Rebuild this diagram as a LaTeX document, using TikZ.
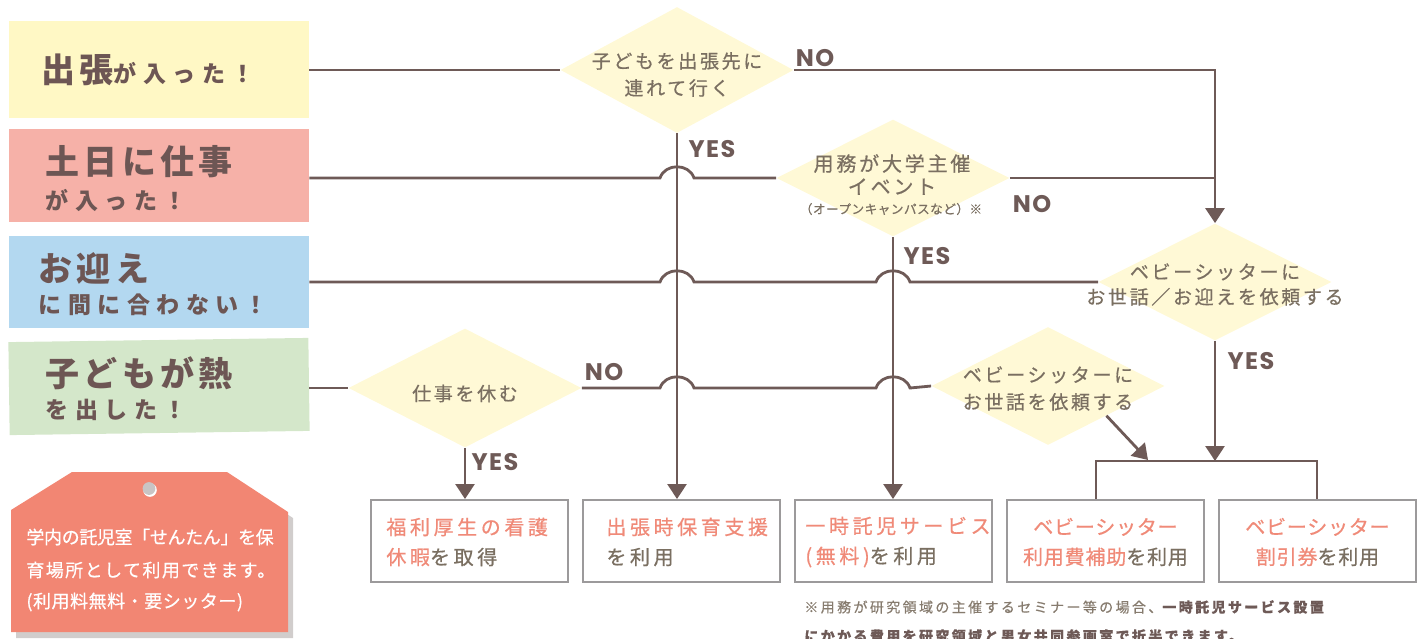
\documentclass[tikz,border=0pt]{standalone}
\usepackage{fontspec}
\usetikzlibrary{shapes.geometric,arrows.meta,calc}
\newfontfamily\jpbig[LetterSpace=12]{Noto Sans CJK JP}
\newfontfamily\jpsmall[LetterSpace=28]{Noto Sans CJK JP}
\newfontfamily\jpmid[LetterSpace=14,FakeBold=0.6]{Noto Sans CJK JP}
\newfontfamily\jpres[LetterSpace=18,FakeBold=0.6]{Noto Sans CJK JP}
\newfontfamily\jptight[LetterSpace=4,FakeBold=0.6]{Noto Sans CJK JP}
\newfontfamily\jptagA[LetterSpace=-2,FakeBold=0.6]{Noto Sans CJK JP}
\newfontfamily\jptagB[LetterSpace=8,FakeBold=0.6]{Noto Sans CJK JP}
\newfontfamily\jptagC[LetterSpace=3,FakeBold=0.6]{Noto Sans CJK JP}
\newfontfamily\jpfn[LetterSpace=17,FakeBold=0.5]{Noto Sans CJK JP}
\newfontfamily\labfont[LetterSpace=6]{Poppins}
\definecolor{ln}{HTML}{6E5A57}
\definecolor{tx}{HTML}{6D5654}
\definecolor{dt}{HTML}{7A6F61}
\definecolor{cY}{HTML}{FFF8C5}
\definecolor{cP}{HTML}{F6B1A8}
\definecolor{cB}{HTML}{B3D8F0}
\definecolor{cG}{HTML}{D4E7CA}
\definecolor{dia}{HTML}{FFF9D6}
\definecolor{sal}{HTML}{F08A78}
\definecolor{bd}{HTML}{9C9A9B}
\definecolor{tagc}{HTML}{F28673}
\definecolor{shd}{HTML}{D1CDCC}
\definecolor{hole}{HTML}{C9C4C4}
\definecolor{fn}{HTML}{867B6E}
\begin{document}
\begin{tikzpicture}[x=0.5pt,y=-0.5pt,
  sit/.style={rectangle,draw=none,inner sep=0pt,minimum width=150pt},
  lt/.style={inner sep=0pt,text=tx},
  bigt/.style={lt,font=\jpbig\bfseries\fontsize{17}{17}\selectfont},
  smallt/.style={lt,font=\jpsmall\bfseries\fontsize{11.5}{11.5}\selectfont},
  cond/.style={diamond,fill=dia,draw=none,inner sep=0pt,minimum width=116.5pt},
  ct/.style={inner sep=0pt,text=dt,align=center},
  res/.style={rectangle,draw=bd,line width=1pt,fill=white,minimum width=98.5pt,minimum height=41pt},
  rt/.style={inner sep=0pt,text=dt,font=\jpres\fontsize{10}{15}\selectfont},
  flow/.style={draw=ln,line width=1.4pt},
  arr/.style={flow,-{Triangle[width=9.5pt,length=7.5pt]}},
  yn/.style={inner sep=0pt,text=ln,font=\labfont\bfseries\fontsize{12}{12}\selectfont},
  tagt/.style={inner sep=0pt,text=white,anchor=west},
  fnt/.style={inner sep=0pt,text=fn,anchor=west,font=\jpfn\fontsize{7}{7}\selectfont}]
\useasboundingbox (0,0) rectangle (1423,638);

% situation boxes
\node[sit,fill=cY,minimum height=48.5pt] (b1) at (159,69.5) {};
\node[sit,fill=cP,minimum height=46.5pt] (b2) at (159,175.5) {};
\node[sit,fill=cB,minimum height=46pt] (b3) at (159,282) {};
\node[sit,fill=cG,minimum height=46.5pt,rotate=0.8] (b4) at (159,386.5) {};

\node[lt,anchor=base west] (b1t) at (41.5,82) {{\jpbig\bfseries\fontsize{17}{17}\selectfont 出張}{\jpsmall\bfseries\fontsize{11.5}{11.5}\selectfont が入った！}};
\node[bigt,anchor=base west] (b2a) at (45.5,174.5) {土日に仕事};
\node[smallt,anchor=base west] (b2b) at (45.5,209) {が入った！};
\node[bigt,anchor=base west] (b3a) at (38.5,281) {お迎え};
\node[smallt,anchor=base west] (b3b) at (38.5,313.5) {に間に合わない！};
\node[bigt,anchor=base west] (b4a) at (45.5,386) {子どもが熱};
\node[smallt,anchor=base west] (b4b) at (45.5,418.5) {を出した！};

% decisions
\node[cond,minimum height=63pt] (d1) at (677,70) {};
\node[cond,minimum height=58.5pt] (d2) at (893,178) {};
\node[cond,minimum height=58.5pt] (d3) at (1215,282) {};
\node[cond,minimum height=59.5pt] (d4) at (465,388) {};
\node[cond,minimum height=59pt] (d5) at (1048,386) {};

\node[ct,font=\jpmid\fontsize{9.5}{13.5}\selectfont] (t1) at (677,74.5) {子どもを出張先に\\連れて行く};
\node[ct,font=\jpmid\fontsize{10}{11.5}\selectfont] (t2) at (892,174.5) {用務が大学主催\\イベント};
\node[ct,font=\jptight\fontsize{6.3}{6.3}\selectfont] (t2b) at (891,209) {（オープンキャンパスなど）※};
\node[ct,font=\jpmid\fontsize{9.5}{12.5}\selectfont] (t3) at (1215,284.5) {ベビーシッターに\\お世話／お迎えを依頼する};
\node[ct,font=\jpmid\fontsize{9.5}{13.5}\selectfont] (t4) at (465,393.5) {仕事を休む};
\node[ct,font=\jpmid\fontsize{9.5}{13.5}\selectfont] (t5) at (1048,388.5) {ベビーシッターに\\お世話を依頼する};

% results
\node[res] (bA) at (469.5,541) {};
\node[res] (bB) at (681.5,541) {};
\node[res] (bC) at (893.5,541) {};
\node[res] (bD) at (1105.5,541) {};
\node[res] (bE) at (1317.5,541) {};

\node[rt,anchor=west,align=left] (tA) at (386,542) {{\color{sal}福利厚生の看護}\\{\color{sal}休暇}を取得};
\node[rt,anchor=west,align=left] (tB) at (606,542) {{\color{sal}出張時保育支援}\\を利用};
\node[rt,anchor=west,align=left] (tC) at (805,542) {{\color{sal}一時託児サービス}\\{\color{sal}(無料)}を利用};
\node[rt,font=\jptight\fontsize{10}{15}\selectfont,align=center] (tD) at (1105.5,542) {{\color{sal}ベビーシッター}\\{\color{sal}利用費補助}を利用};
\node[rt,font=\jptight\fontsize{10}{15}\selectfont,align=center] (tE) at (1317.5,542) {{\color{sal}ベビーシッター}\\{\color{sal}割引券}を利用};

% helper coordinates
\coordinate (c12) at (d1.south |- d2.west);
\coordinate (c13) at (d1.south |- d3.west);
\coordinate (c23) at (d2.south |- d3.west);
\coordinate (c14) at (d1.south |- d4.east);
\coordinate (c24) at (d2.south |- d4.east);
\coordinate (brL) at (1096,461);
\coordinate (brR) at (1317,461);
\coordinate (dk) at (1148,460);

% connectors
\draw[flow] (b1.east |- d1.west) -- (d1.west);
\draw[arr] (d1.east) -- (d3.north |- d1.east) -- (d3.north);
\draw[arr] (d1.south) -- (d1.south |- bB.north);
\draw[flow] (b2.east |- d2.west) -- ([xshift=-8.5pt]c12) .. controls +(5,-15) and +(-5,-15) .. ([xshift=8.5pt]c12) -- (d2.west);
\draw[flow] (d2.east) -- (d3.north |- d2.east);
\draw[arr] (d2.south) -- (d2.south |- bC.north);
\draw[flow] (b3.east |- d3.west) -- ([xshift=-8.5pt]c13) .. controls +(5,-15) and +(-5,-15) .. ([xshift=8.5pt]c13)
   -- ([xshift=-8.5pt]c23) .. controls +(5,-15) and +(-5,-15) .. ([xshift=8.5pt]c23) -- (d3.west);
\draw[arr] (d3.south) -- (d3.south |- brL);
\draw[flow] (b4.east |- d4.west) -- (d4.west);
\draw[flow] (d4.east) -- ([xshift=-8.5pt]c14) .. controls +(5,-15) and +(-5,-15) .. ([xshift=8.5pt]c14)
   -- ([xshift=-8.5pt]c24) .. controls +(5,-15) and +(-5,-15) .. ([xshift=8.5pt]c24) -- (d5.west);
\draw[arr] (d4.south) -- (d4.south |- bA.north);
\draw[arr] (d5.south east) -- (dk);
\draw[flow] (bD.north -| brL) -- (brL) -- (brR) -- (bE.north -| brR);

% labels
\node[yn] (n1) at (815,58) {NO};
\node[yn] (y1) at (712,149) {YES};
\node[yn] (n2) at (1032,204) {NO};
\node[yn] (y2) at (927,256) {YES};
\node[yn] (y3) at (1251,361) {YES};
\node[yn] (n4) at (604,372) {NO};
\node[yn] (y4) at (495,462) {YES};

% tag
\fill[shd] (16,516) -- (77,478) -- (232,478) -- (293,518) -- (293,638) -- (16,638) -- cycle;
\fill[tagc] (11,510) -- (72,472) -- (227,472) -- (288,512) -- (288,632) -- (11,632) -- cycle;
\fill[white] (150,490) circle[radius=3.4pt];
\fill[hole] (149,488.5) circle[radius=3.2pt];
\node[tagt,font=\jptagA\fontsize{9}{9}\selectfont] (tg1) at (26,537) {学内の託児室「せんたん」を保};
\node[tagt,font=\jptagB\fontsize{9}{9}\selectfont] (tg2) at (26,570) {育場所として利用できます。};
\node[tagt,font=\jptagC\fontsize{9}{9}\selectfont] (tg3) at (26,602) {(利用料無料・要シッター)};

% footnote
\node[fnt] (fn1) at (804,607) {※用務が研究領域の主催するセミナー等の場合、{\bfseries\color{ln}一時託児サービス設置}};
\node[fnt,font=\jpfn\bfseries\fontsize{7}{7}\selectfont,text=ln] (fn2) at (804,636) {にかかる費用を研究領域と男女共同参画室で折半できます。};
\end{tikzpicture}
\end{document}
